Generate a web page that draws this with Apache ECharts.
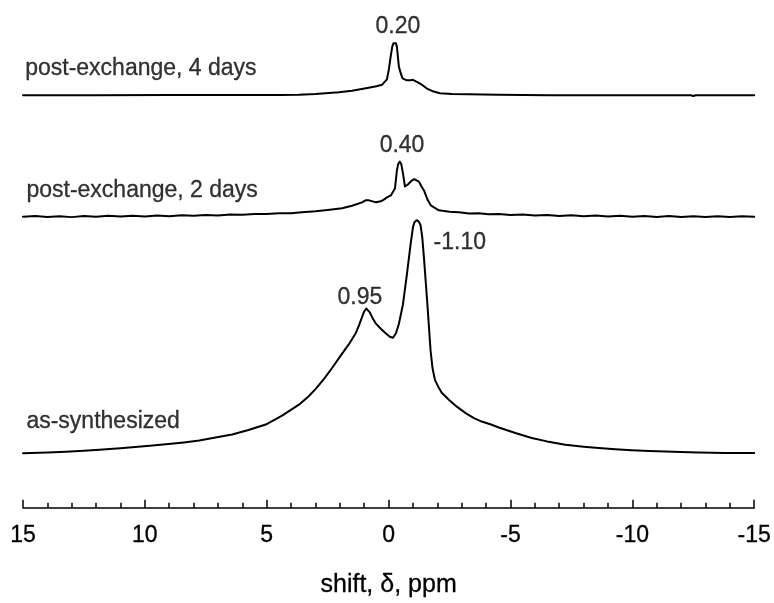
<!DOCTYPE html>
<html>
<head>
<meta charset="utf-8">
<script src="https://cdn.jsdelivr.net/npm/echarts@6/dist/echarts.min.js"></script>
<style>
html,body{margin:0;padding:0;background:#fff;}
#chart{width:774px;height:603px;}
</style>
</head>
<body>
<div id="chart"></div>
<script>
// x tick labels (ppm), drawn by the axis
const xTicks = [15, 10, 5, 0, -5, -10, -15];

// Spectra: [shift (ppm), intensity above own baseline]
const spec4days = [
  [15,0],[12,0],[9,0.2],[6,0.3],[4.5,0.3],[3.68,0.5],[3,1.2],[2.04,3],[1.5,4.5],[0.93,7],[0.5,9],
  [0.27,10.5],[0.07,16],[-0.01,26],[-0.09,40],[-0.15,49],[-0.2,52.5],[-0.25,53.3],[-0.3,52.5],
  [-0.34,49],[-0.38,39],[-0.42,29],[-0.5,22],[-0.57,17],[-0.63,16],[-0.75,15],[-0.9,15],
  [-1.0,15.5],[-1.08,15],[-1.2,13],[-1.34,11],[-1.57,6.7],[-1.78,4.3],[-2.1,2],[-2.6,1.3],
  [-3.29,1],[-4.5,0.5],[-6.57,0],[-9,0],[-12.4,0],[-12.5,-0.8],[-12.6,0],[-15,0]
];
const spec2days = [
  [15,0],[14.5,0.8],[14,-0.3],[13.5,0.6],[13,-0.4],[12.5,0.7],[12,0],[11.5,0.9],[11,0.2],
  [10.5,1],[10,0.3],[9.5,1.2],[9,0.6],[8.5,1.4],[8,0.9],[7.5,1.8],[7,1.3],[6.5,2.2],[6,1.9],
  [5.5,2.8],[5,2.7],[4.5,3.4],[4,3.6],[3.68,4.2],[3,5.5],[2.5,6.8],[1.91,8.5],[1.5,11],
  [1.09,14.5],[0.95,16.5],[0.89,17.5],[0.8,16.5],[0.73,15],[0.52,14.5],[0.32,15.5],[0.18,17.5],
  [0.07,19.5],[-0.09,21.5],[-0.26,28.5],[-0.34,46.5],[-0.39,53],[-0.46,55.5],[-0.52,53],
  [-0.59,43.5],[-0.67,30.5],[-0.79,32.5],[-0.95,36.5],[-1.05,38],[-1.12,37.5],[-1.24,35.5],
  [-1.35,30.5],[-1.45,26.5],[-1.61,16.5],[-1.73,11.5],[-2.06,6.5],[-2.5,5],[-2.88,4.5],
  [-3.3,3.2],[-3.7,3.6],[-4.1,2.4],[-4.52,2.8],[-5,1.8],[-5.5,2.3],[-6,1.2],[-6.5,1.8],
  [-7,0.8],[-7.5,1.5],[-8,0.5],[-8.5,1.2],[-9,0.3],[-9.5,1],[-10,0],[-10.5,0.8],[-11,-0.2],
  [-11.5,0.7],[-12,-0.2],[-12.5,0.6],[-13,-0.3],[-13.5,0.6],[-14,-0.2],[-14.5,0.5],[-15,0]
];
const specAsSynth = [
  [15,0],[14,0.8],[13.24,1.6],[12.5,2.5],[11.87,3.5],[11,5],[10.52,6],[9.8,7.5],[9.14,9],
  [8.4,11],[7.77,13],[7.1,16],[6.42,19],[5.75,23.5],[5.04,29],[4.37,38],[3.68,49],[3.3,57],
  [2.99,65],[2.65,75],[2.32,86],[1.98,98],[1.63,110],[1.35,121],[1.2,130],[1.08,138],
  [1.0,143],[0.92,146],[0.85,145],[0.77,142],[0.65,136],[0.53,131],[0.3,125],[0.12,121],
  [-0.05,117.5],[-0.18,116.5],[-0.3,121],[-0.42,130.3],[-0.59,150.3],[-0.75,180.3],
  [-0.9,210.3],[-1.0,228],[-1.06,233],[-1.15,235],[-1.24,233.5],[-1.31,230],[-1.38,218],
  [-1.45,197],[-1.58,154],[-1.72,104],[-1.8,86],[-1.9,74],[-2.06,66],[-2.18,61],[-2.47,54],
  [-2.8,47],[-3.16,40.5],[-3.5,35.5],[-3.82,32],[-4.2,29],[-4.52,26],[-5.2,20.5],[-5.87,15.5],
  [-6.5,12],[-7.25,8.7],[-8,6.7],[-8.62,5.3],[-9.3,4],[-9.97,3],[-10.7,2.3],[-11.35,1.7],
  [-12,1.2],[-12.72,0.7],[-13.8,0.4],[-15,0.3]
];

// vertical stacking offsets for each trace (axis units)
const offset4days = 416;
const offset2days = 293.5;
const offsetAsSynth = 55;

// text annotations: [shift, height, text]
const traceNames = [
  [14.91, 443, 'post-exchange, 4 days'],
  [14.86, 320, 'post-exchange, 2 days'],
  [14.86, 87, 'as-synthesized']
];
const peakLabels = [
  [-0.38, 485, '0.20'],
  [-0.55, 365, '0.40'],
  [1.18, 212, '0.95'],
  [-2.92, 267, '-1.10']
];

const FONT = "'Liberation Sans', Arial, sans-serif";
const shift = (arr, off) => arr.map(p => [p[0], p[1] + off]);

const lineSeries = (data) => ({
  type: 'line', data: data, showSymbol: false, symbol: 'none',
  smooth: false, clip: false,
  lineStyle: { color: '#000', width: 2, join: 'round', cap: 'round' }
});

const textStyleBase = {
  color: '#000', fontFamily: FONT,
  textBorderColor: '#000', textBorderWidth: 0.3
};

const chart = echarts.init(document.getElementById('chart'), null, { renderer: 'canvas' });
chart.setOption({
  animation: false,
  backgroundColor: '#fff',
  grid: { left: 23, right: 19, top: 0, bottom: 91, containLabel: false },
  xAxis: {
    type: 'value', min: -15, max: 15, interval: 5, inverse: true,
    axisLine: { show: true, lineStyle: { color: '#000', width: 1.5 } },
    axisTick: { show: true, inside: true, length: 8, lineStyle: { color: '#000', width: 1.5 } },
    minorTick: { show: true, splitNumber: 5, length: 5, lineStyle: { color: '#000', width: 1.5 } },
    splitLine: { show: false },
    axisLabel: Object.assign({}, textStyleBase, {
      fontSize: 23, margin: 16,
      formatter: v => xTicks.indexOf(v) >= 0 ? String(v) : ''
    }),
    name: 'shift, δ, ppm', nameLocation: 'middle', nameGap: 65,
    nameTextStyle: Object.assign({}, textStyleBase, { fontSize: 25 })
  },
  yAxis: { type: 'value', min: 0, max: 512, show: false },
  series: [
    lineSeries(shift(spec4days, offset4days)),
    lineSeries(shift(spec2days, offset2days)),
    lineSeries(shift(specAsSynth, offsetAsSynth)),
    {
      type: 'scatter', symbolSize: 0, silent: true,
      data: traceNames.map(t => ({ value: [t[0], t[1]], name: t[2] })),
      label: Object.assign({}, textStyleBase, { show: true, position: [0, 0], align: 'left',
        verticalAlign: 'middle', formatter: p => p.name, fontSize: 23 })
    },
    {
      type: 'scatter', symbolSize: 0, silent: true,
      data: peakLabels.map(t => ({ value: [t[0], t[1]], name: t[2] })),
      label: Object.assign({}, textStyleBase, { show: true, position: [0, 0], align: 'center',
        verticalAlign: 'middle', formatter: p => p.name, fontSize: 23 })
    }
  ]
});
</script>
</body>
</html>
